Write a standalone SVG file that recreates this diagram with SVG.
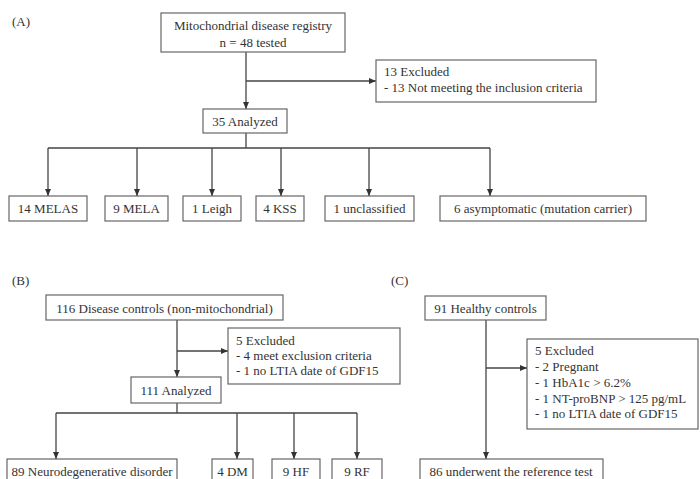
<svg xmlns="http://www.w3.org/2000/svg" width="700" height="479" viewBox="0 0 700 479">
<defs>
<marker id="arr" markerWidth="7" markerHeight="6" refX="7" refY="3" orient="auto" markerUnits="userSpaceOnUse"><path d="M0,0 L7,3 L0,6 Z" fill="#333"/></marker>
<style>
text{font-family:"Liberation Serif","Times New Roman",serif;font-size:13px;fill:#333}
.c{text-anchor:middle}
rect{fill:#fff;stroke:#666;stroke-width:1.2}
.ln{fill:none;stroke:#444;stroke-width:1.3}
.ar{fill:none;stroke:#444;stroke-width:1.3;marker-end:url(#arr)}
</style>
</defs>
<rect x="0" y="0" width="700" height="479" style="fill:#fff;stroke:none"/>
<text x="12" y="26">(A)</text>
<text x="12" y="285">(B)</text>
<text x="391" y="285">(C)</text>

<g id="connectors">
<path class="ar" d="M246,52 V109"/>
<path class="ar" d="M246,81 H376"/>
<path class="ln" d="M246,133 V148 M48,148 H490"/>
<path class="ar" d="M48,148 V196"/>
<path class="ar" d="M137,148 V196"/>
<path class="ar" d="M212,148 V196"/>
<path class="ar" d="M281,148 V196"/>
<path class="ar" d="M369,148 V196"/>
<path class="ar" d="M490,148 V196"/>
<path class="ar" d="M177,320 V377"/>
<path class="ar" d="M177,351 H228"/>
<path class="ln" d="M177,403 V413 M56,413 H357"/>
<path class="ar" d="M56,413 V459"/>
<path class="ar" d="M237,413 V459"/>
<path class="ar" d="M294,413 V459"/>
<path class="ar" d="M357,413 V459"/>
<path class="ar" d="M486,320 V459"/>
<path class="ar" d="M486,368 H527"/>
</g>

<g id="registry"><rect x="161" y="13" width="184" height="39"/><text class="c" x="253" y="29.5">Mitochondrial disease registry</text><text class="c" x="253" y="46.5">n = 48 tested</text></g>
<g id="excludedA"><rect x="376" y="60" width="220" height="42"/><text x="384" y="76">13 Excluded</text><text x="384" y="92">- 13 Not meeting the inclusion criteria</text></g>
<g id="analyzedA"><rect x="203" y="109" width="84" height="24"/><text class="c" x="245" y="126">35 Analyzed</text></g>
<g id="melas"><rect x="9" y="196" width="78" height="25"/><text class="c" x="48" y="213">14 MELAS</text></g>
<g id="mela"><rect x="105" y="196" width="63" height="25"/><text class="c" x="136.5" y="213">9 MELA</text></g>
<g id="leigh"><rect x="183" y="196" width="58" height="25"/><text class="c" x="212" y="213">1 Leigh</text></g>
<g id="kss"><rect x="256" y="196" width="48" height="25"/><text class="c" x="280" y="213">4 KSS</text></g>
<g id="unclassified"><rect x="325" y="196" width="89" height="25"/><text class="c" x="369.5" y="213">1 unclassified</text></g>
<g id="asymptomatic"><rect x="440" y="196" width="206" height="25"/><text class="c" x="543" y="213">6 asymptomatic (mutation carrier)</text></g>

<g id="diseaseControls"><rect x="46" y="295" width="237" height="25"/><text class="c" x="164.5" y="313">116 Disease controls (non-mitochondrial)</text></g>
<g id="excludedB"><rect x="228" y="328" width="172" height="56"/><text x="236" y="345">5 Excluded</text><text x="236" y="360">- 4 meet exclusion criteria</text><text x="236" y="375">- 1 no LTIA date of GDF15</text></g>
<g id="analyzedB"><rect x="131" y="377" width="90" height="26"/><text class="c" x="176" y="395">111 Analyzed</text></g>
<g id="neuro"><rect x="7" y="459" width="170" height="30"/><text class="c" x="92" y="476">89 Neurodegenerative disorder</text></g>
<g id="dm"><rect x="212" y="459" width="41" height="30"/><text class="c" x="232.5" y="476">4 DM</text></g>
<g id="hf"><rect x="272" y="459" width="48" height="30"/><text class="c" x="296" y="476">9 HF</text></g>
<g id="rf"><rect x="332" y="459" width="50" height="30"/><text class="c" x="357" y="476">9 RF</text></g>

<g id="healthy"><rect x="425" y="296" width="121" height="24"/><text class="c" x="485.5" y="313">91 Healthy controls</text></g>
<g id="excludedC"><rect x="527" y="339" width="171" height="90"/><text x="535" y="355">5 Excluded</text><text x="535" y="371">- 2 Pregnant</text><text x="535" y="387">- 1 HbA1c &gt; 6.2%</text><text x="535" y="403">- 1 NT-proBNP &gt; 125 pg/mL</text><text x="535" y="418">- 1 no LTIA date of GDF15</text></g>
<g id="reference"><rect x="420" y="459" width="183" height="30"/><text class="c" x="511" y="476">86 underwent the reference test</text></g>
</svg>
